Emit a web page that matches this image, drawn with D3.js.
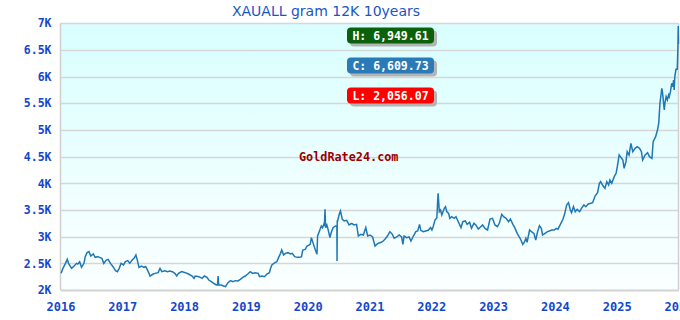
<!DOCTYPE html>
<html><head><meta charset="utf-8">
<script src="https://cdn.jsdelivr.net/npm/d3@7/dist/d3.min.js"></script>
<style>body{margin:0;background:#fff}svg{display:block}</style>
</head><body>
<svg id="c" width="680" height="320"></svg>
<script>
const title = "XAUALL gram 12K 10years";
const yTicks = [2000, 2500, 3000, 3500, 4000, 4500, 5000, 5500, 6000, 6500, 7000];
const yTickLabels = ["2K", "2.5K", "3K", "3.5K", "4K", "4.5K", "5K", "5.5K", "6K", "6.5K", "7K"];
const xTicks = [2016, 2017, 2018, 2019, 2020, 2021, 2022, 2023, 2024, 2025, 2026];
const watermark = "GoldRate24.com";
const statNames = ["H", "C", "L"];
const statValues = [6949.61, 6609.73, 2056.07];
const statColors = ["#0b600b", "#2a7ab8", "#ff0000"];

// decimal year of each observation
const times = [
2016.01,2016.04,2016.08,2016.11,2016.13,2016.18,2016.22,2016.26,2016.28,2016.31,2016.34,2016.38,2016.40,2016.43,2016.46,2016.49,2016.53,2016.56,2016.60,2016.63,2016.67,2016.70,2016.74,2016.77,2016.81,2016.85,2016.89,2016.92,2016.95,2016.98,
2017.02,2017.05,2017.09,2017.12,2017.16,2017.19,2017.22,2017.24,2017.27,2017.31,2017.35,2017.38,2017.42,2017.45,2017.50,2017.53,2017.58,2017.61,2017.64,2017.69,2017.73,2017.77,2017.81,2017.85,2017.88,2017.91,2017.96,
2018.02,2018.07,2018.13,2018.16,2018.18,2018.24,2018.29,2018.33,2018.37,2018.40,2018.44,2018.48,2018.52,2018.54,2018.55,2018.56,2018.60,2018.64,2018.67,2018.71,2018.75,2018.79,2018.83,2018.87,2018.91,2018.95,2018.99,
2019.03,2019.07,2019.11,2019.15,2019.20,2019.22,2019.26,2019.30,2019.34,2019.38,2019.40,2019.42,2019.47,2019.50,2019.53,2019.56,2019.58,2019.61,2019.64,2019.68,2019.72,2019.75,2019.79,2019.83,2019.87,2019.90,2019.92,2019.96,2019.99,
2020.04,2020.06,2020.09,2020.12,2020.15,2020.16,2020.18,2020.22,2020.24,2020.26,2020.27,2020.28,2020.29,2020.31,2020.33,2020.36,2020.38,2020.41,2020.45,2020.472,2020.475,2020.478,2020.485,2020.51,2020.53,2020.56,2020.59,2020.63,2020.67,2020.71,2020.75,2020.79,2020.82,2020.86,2020.90,2020.94,2020.97,
2021.01,2021.05,2021.09,2021.13,2021.17,2021.21,2021.25,2021.29,2021.33,2021.37,2021.40,2021.44,2021.48,2021.52,2021.54,2021.56,2021.60,2021.64,2021.67,2021.71,2021.75,2021.78,2021.81,2021.83,2021.87,2021.91,2021.95,2021.99,
2022.01,2022.03,2022.06,2022.09,2022.10,2022.11,2022.13,2022.15,2022.17,2022.21,2022.23,2022.25,2022.28,2022.30,2022.33,2022.37,2022.40,2022.44,2022.48,2022.51,2022.55,2022.58,2022.62,2022.65,2022.69,2022.72,2022.76,2022.80,2022.83,2022.87,2022.91,2022.95,2022.99,
2023.03,2023.07,2023.10,2023.14,2023.17,2023.21,2023.25,2023.28,2023.32,2023.35,2023.39,2023.43,2023.45,2023.48,2023.51,2023.53,2023.55,2023.59,2023.62,2023.66,2023.69,2023.72,2023.75,2023.78,2023.80,2023.84,2023.88,2023.91,2023.95,2023.99,
2024.02,2024.05,2024.13,2024.16,2024.19,2024.22,2024.25,2024.27,2024.30,2024.33,2024.36,2024.40,2024.43,2024.47,2024.50,2024.54,2024.58,2024.61,2024.65,2024.69,2024.72,2024.74,2024.77,2024.81,2024.84,2024.87,2024.89,2024.92,2024.96,2024.99,
2025.01,2025.04,2025.06,2025.10,2025.12,2025.15,2025.17,2025.20,2025.23,2025.26,2025.30,2025.33,2025.37,2025.40,2025.42,2025.46,2025.50,2025.53,2025.57,2025.59,2025.63,2025.66,2025.68,2025.70,2025.73,2025.74,2025.77,2025.78,2025.80,2025.82,2025.84,2025.85,2025.87,2025.89,2025.91,2025.92,2025.93,2025.94,2025.96,2025.98,2025.99,2025.996,2026.0
];
const values = [
2312,2406,2500,2575,2500,2406,2450,2500,2488,2531,2425,2500,2625,2700,2719,2637,2675,2612,2625,2612,2594,2500,2562,2575,2500,2437,2362,2344,2406,2500,
2469,2531,2550,2500,2562,2594,2656,2575,2425,2450,2425,2437,2344,2262,2300,2312,2325,2406,2344,2362,2344,2356,2344,2312,2262,2312,2344,
2325,2300,2262,2219,2262,2250,2219,2262,2237,2187,2156,2125,2094,2094,2262,2094,2094,2075,2062,2137,2175,2156,2175,2169,2200,2237,2262,
2300,2344,2312,2325,2312,2250,2262,2250,2300,2325,2406,2469,2512,2531,2612,2687,2750,2656,2687,2700,2675,2687,2625,2612,2612,2625,2750,2762,2825,
2856,2981,2869,2762,2669,3012,3075,3200,3169,3231,3200,3512,3169,3219,3137,2981,3075,3169,3200,3200,2544,3294,3294,3419,3481,3325,3294,3306,3219,3250,3219,3231,3012,3044,3031,3169,3012,
3031,2994,2825,2869,2887,2906,2950,3012,3094,3044,2969,2994,3031,2994,2856,3012,2981,2994,2919,3012,3094,3106,3231,3119,3094,3106,3119,3169,
3125,3187,3312,3356,3594,3812,3469,3500,3406,3531,3562,3469,3437,3344,3375,3344,3375,3269,3169,3281,3294,3231,3269,3156,3250,3219,3144,3187,3219,3156,3125,3331,3344,
3219,3187,3250,3419,3375,3344,3281,3331,3231,3169,3062,2981,2937,2856,2906,2969,2894,3125,3094,3062,2937,3094,3206,3156,3031,3062,3094,3106,3125,3125,
3156,3140,3325,3437,3594,3637,3500,3450,3562,3469,3512,3469,3531,3594,3562,3612,3625,3637,3762,3825,4000,4031,3969,3906,4031,3969,4062,4000,4125,4187,
4312,4531,4500,4437,4281,4406,4594,4531,4750,4594,4656,4687,4656,4594,4437,4531,4575,4500,4469,4781,4875,5000,5125,5500,5781,5719,5375,5500,5625,5562,5656,5625,5719,5875,5812,5937,5750,6000,6137,6137,6531,6949.61,6609.73
];

const svg = d3.select("#c");
const x = d3.scaleLinear().domain([2016, 2026]).range([60.5, 678.5]);
const y = d3.scaleLinear().domain([2000, 7000]).range([290, 23.3]);

const defs = svg.append("defs");
const grad = defs.append("linearGradient").attr("id", "bg").attr("x1", 0).attr("y1", 0).attr("x2", 0).attr("y2", 1);
grad.append("stop").attr("offset", "0%").attr("stop-color", "#d9fefe");
grad.append("stop").attr("offset", "100%").attr("stop-color", "#fbffff");

svg.append("rect").attr("x", x(2016)).attr("y", y(7000))
  .attr("width", x(2026) - x(2016)).attr("height", y(2000) - y(7000))
  .attr("fill", "url(#bg)");

// grid
svg.append("g").selectAll("line").data(yTicks).join("line")
  .attr("x1", x(2016)).attr("x2", x(2026))
  .attr("y1", d => Math.round(y(d)) + 0.5).attr("y2", d => Math.round(y(d)) + 0.5)
  .attr("stroke", "#d6d6d6").attr("stroke-width", 1.3);

// frame lines
svg.append("line").attr("x1", 60.5).attr("x2", 60.5).attr("y1", y(7000)).attr("y2", y(2000)).attr("stroke", "#d0d0d0").attr("stroke-width", 1.5);
svg.append("line").attr("x1", 678.5).attr("x2", 678.5).attr("y1", y(7000)).attr("y2", y(2000)).attr("stroke", "#d0d0d0").attr("stroke-width", 1.5);

const font = "'DejaVu Sans Mono', monospace";
const axisColor = "#1448cc";

// y axis labels
const yAxis = d3.axisLeft(y).tickValues(yTicks).tickFormat((d, i) => yTickLabels[i]).tickSize(0).tickPadding(9);
const gy = svg.append("g").attr("transform", "translate(60.5,0)").call(yAxis);
gy.select(".domain").remove();
gy.selectAll("text").attr("fill", axisColor).attr("font-family", font).attr("font-weight", "bold").attr("font-size", "11.5px");

// x axis labels
const xAxis = d3.axisBottom(x).tickValues(xTicks).tickFormat(d3.format("d")).tickSize(0).tickPadding(12);
const gx = svg.append("g").attr("transform", "translate(0,290)").call(xAxis);
gx.select(".domain").attr("stroke", "#d0d0d0").attr("stroke-width", 1.5);
gx.selectAll("text").attr("fill", axisColor).attr("font-family", font).attr("font-weight", "bold").attr("font-size", "12px");

// title
svg.append("text").attr("x", 326).attr("y", 16).attr("text-anchor", "middle")
  .attr("fill", "#1a55c6").attr("font-family", "'DejaVu Sans', sans-serif").attr("font-size", "14px")
  .text(title);

// watermark
svg.append("text").attr("x", 299).attr("y", 161)
  .attr("fill", "#9a0000").attr("font-family", font).attr("font-weight", "bold").attr("font-size", "11.8px")
  .text(watermark);

// series line
const pts = times.map((t, i) => [t, values[i]]);
const line = d3.line().x(d => x(d[0])).y(d => y(d[1]));
svg.append("path").datum(pts).attr("d", line)
  .attr("fill", "none").attr("stroke", "#1f77b4").attr("stroke-width", 1.5).attr("stroke-linejoin", "miter");

// stat boxes
const fmt = d3.format(",.2f");
const boxes = svg.append("g").selectAll("g").data(statNames).join("g")
  .attr("transform", (d, i) => `translate(347,${27.5 + i * 30})`);
boxes.append("rect").attr("x", 3).attr("y", 3).attr("width", 87).attr("height", 16).attr("rx", 4)
  .attr("fill", "#b4b4b4");
boxes.append("rect").attr("x", 0).attr("y", 0).attr("width", 87).attr("height", 16).attr("rx", 4)
  .attr("fill", (d, i) => statColors[i]);
boxes.append("text").attr("x", 43.5).attr("y", 12).attr("text-anchor", "middle")
  .attr("fill", "#fff").attr("font-family", font).attr("font-weight", "bold").attr("font-size", "11.5px")
  .text((d, i) => `${d}: ${fmt(statValues[i])}`);
</script>
</body></html>
